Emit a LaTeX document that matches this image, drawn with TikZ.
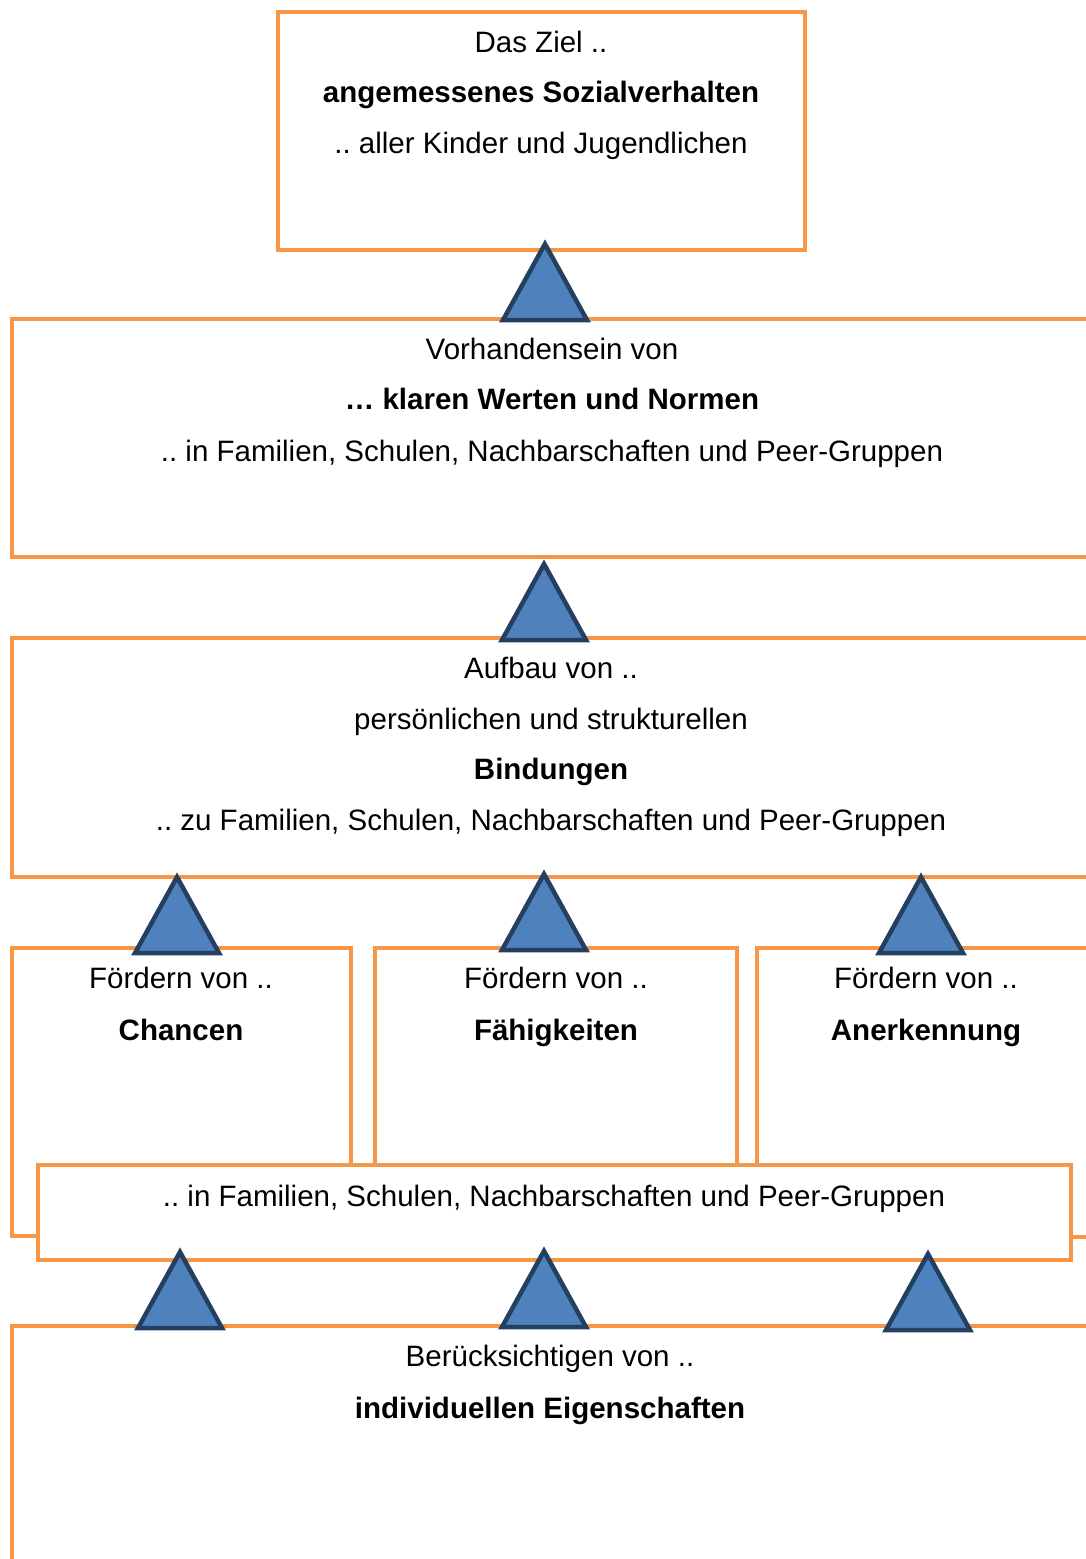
\documentclass[tikz,border=0pt]{standalone}
\usepackage{fontspec}
\setmainfont{Liberation Sans}
\frenchspacing
\usetikzlibrary{positioning}
\definecolor{BoxClr}{HTML}{F79646}
\definecolor{TriClr}{HTML}{4F81BD}
\definecolor{TriLine}{HTML}{243F60}

\tikzset{
  stufe/.style={draw=BoxClr,line width=4.5pt,fill=white},
  zeile/.style={anchor=base,inner sep=0pt,font=\fontsize{29.5}{35}\selectfont},
  fett/.style={zeile,font=\fontsize{29.5}{35}\selectfont\bfseries},
  spitze/.style={draw=TriLine,fill=TriClr,line width=4.5pt,line join=miter},
}

\begin{document}
\begin{tikzpicture}[x=1pt,y=-1pt]
\useasboundingbox (0,0) rectangle (1086,1559);
\clip (0,0) rectangle (1086,1559);

% Kaesten
\draw[stufe] (278,12) rectangle (805,250);
\draw[stufe] (12,319) rectangle (1092,557);
\draw[stufe] (12,638) rectangle (1092,877);
\draw[stufe] (12,948) rectangle (351,1236);
\draw[stufe] (375,948) rectangle (737,1200);
\draw[stufe] (757,948) rectangle (1095,1237);
\draw[stufe] (38,1165) rectangle (1071,1260);
\draw[stufe] (12,1326) rectangle (1092,1600);

% Dreiecke
\foreach \x/\y in {545/240,544/560,177/873,544/870,921/873,180/1248,544/1247,928/1250}
  \draw[spitze] (\x-42,\y+80) -- (\x,\y+4) -- (\x+42,\y+80) -- cycle;

% Ziel
\node[zeile] (ziel1) at (541,52) {Das Ziel ..};
\node[fett]  (ziel2) at (541,102) {angemessenes Sozialverhalten};
\node[zeile] (ziel3) at (541,153) {.. aller Kinder und Jugendlichen};

% Werte
\node[zeile] (wert1) at (552,359) {Vorhandensein von};
\node[fett]  (wert2) at (552,409) {… klaren Werten und Normen};
\node[zeile] (wert3) at (552,461) {.. in Familien, Schulen, Nachbarschaften und Peer-Gruppen};

% Bindungen
\node[zeile] (bind1) at (551,678) {Aufbau von ..};
\node[zeile] (bind2) at (551,729) {persönlichen und strukturellen};
\node[fett]  (bind3) at (551,779) {Bindungen};
\node[zeile] (bind4) at (551,830) {.. zu Familien, Schulen, Nachbarschaften und Peer-Gruppen};

% Foerdern
\node[zeile] (chance1) at (181,988) {Fördern von ..};
\node[fett]  (chance2) at (181,1040) {Chancen};
\node[zeile] (faehig1) at (556,988) {Fördern von ..};
\node[fett]  (faehig2) at (556,1040) {Fähigkeiten};
\node[zeile] (anerk1) at (926,988) {Fördern von ..};
\node[fett]  (anerk2) at (926,1040) {Anerkennung};

\node[zeile] (orte) at (554,1206) {.. in Familien, Schulen, Nachbarschaften und Peer-Gruppen};

% Eigenschaften
\node[zeile] (eigen1) at (550,1366) {Berücksichtigen von ..};
\node[fett]  (eigen2) at (550,1418) {individuellen Eigenschaften};
\end{tikzpicture}
\end{document}
